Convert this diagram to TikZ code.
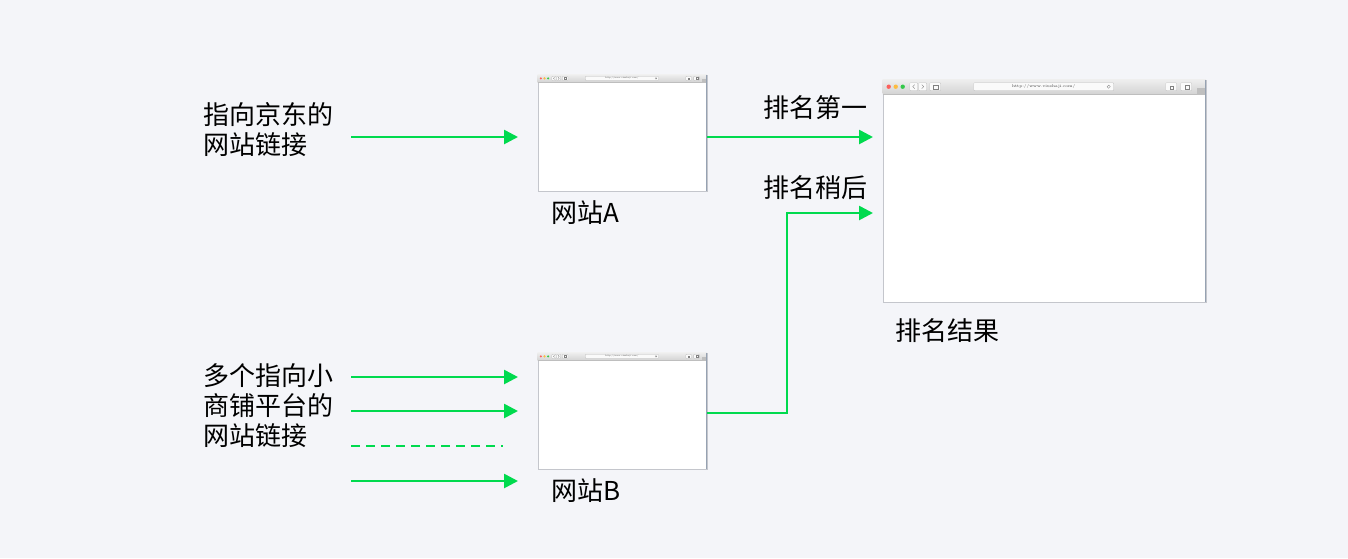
\documentclass[tikz,border=0pt]{standalone}
\usepackage{fontspec}
\newfontfamily\cjk{Noto Sans CJK SC}
\usetikzlibrary{arrows.meta,calc}
\definecolor{bg}{RGB}{244,245,249}
\definecolor{grn}{RGB}{0,218,78}
\definecolor{winedge}{RGB}{196,198,204}
\definecolor{winright}{RGB}{150,162,178}
\definecolor{bartop}{RGB}{238,238,238}
\definecolor{barbot}{RGB}{212,212,212}
\definecolor{btn}{RGB}{250,250,250}
\definecolor{btnedge}{RGB}{190,190,190}
\definecolor{dred}{RGB}{252,96,92}
\definecolor{dyel}{RGB}{253,188,64}
\definecolor{dgrn}{RGB}{52,200,74}
\tikzset{
  lbl/.style={font=\cjk\fontsize{26}{30}\selectfont, inner sep=0pt, anchor=west, align=left, text=black},
  win/.style={fill=white, draw=winedge, line width=0.6pt, inner sep=0pt},
  arr/.style={draw=grn, line width=2.6pt, -{Triangle[length=14pt,width=14pt]}},
  dashline/.style={draw=grn, line width=2.6pt, dash pattern=on 9pt off 6pt},
  btnbox/.style={fill=btn, draw=btnedge, line width=0.3pt, rounded corners=0.8pt},
}
\newcommand\browserdeco[2]{%
  \begin{scope}[shift={(#1.north west)}, scale=#2]
    \shade[top color=bartop, bottom color=barbot] (0,0) rectangle (323,14);
    \draw[btnedge, line width=0.4pt] (0,14) -- (323,14);
    \fill[dred] (6,7) circle[radius=2.2];
    \fill[dyel] (13,7) circle[radius=2.2];
    \fill[dgrn] (20,7) circle[radius=2.2];
    \path[btnbox] (27,3) rectangle (35,11);
    \path[btnbox] (36,3) rectangle (44,11);
    \draw[gray, line width=0.35pt] (32,5) -- (30,7) -- (32,9);
    \draw[gray, line width=0.35pt] (39,5) -- (41,7) -- (39,9);
    \path[btnbox] (47,3) rectangle (58,11);
    \draw[gray, line width=0.3pt] (50,5) rectangle (55,9);
    \path[btnbox] (91,3) rectangle (231,11);
    \node[font=\fontsize{4}{4}\selectfont, inner sep=0pt, text=darkgray, transform shape] at (161,7) {http://www.viushaji.com/};
    \draw[gray, line width=0.3pt] (226,7) circle[radius=1.6];
    \path[btnbox] (283,3) rectangle (294,11);
    \path[btnbox] (298,3) rectangle (309,11);
    \draw[gray, line width=0.3pt] (287,6) rectangle (290,9);
    \draw[gray, line width=0.3pt] (302,5) rectangle (306,9);
    \fill[barbot!90!black] (314,8) rectangle (323,15);
    \draw[winright, line width=1.3pt] (323,0) -- (323,222);
  \end{scope}%
}
\begin{document}
\begin{tikzpicture}[x=1pt,y=-1pt]
\fill[bg] (0,0) rectangle (1348,558);
\useasboundingbox (0,0) rectangle (1348,558);

% windows
\node[win, minimum width=169pt, minimum height=116pt] (wa) at (622.5,133) {};
\node[win, minimum width=169pt, minimum height=116pt] (wb) at (622.5,411) {};
\node[win, minimum width=323pt, minimum height=222pt] (wr) at (1044.5,191) {};
\browserdeco{wa}{0.5232}
\browserdeco{wb}{0.5232}
\browserdeco{wr}{1}

% labels
\node[lbl] (t1) at (203,130) {指向京东的\\网站链接};
\node[lbl] (t2) at (203,406) {多个指向小\\商铺平台的\\网站链接};
\node[lbl] (la) at (551,213) {网站A};
\node[lbl] (lb) at (551,491) {网站B};
\node[lbl] (r1) at (763,108) {排名第一};
\node[lbl] (r2) at (763,188) {排名稍后};
\node[lbl] (rr) at (895,331) {排名结果};

% connector end points
\coordinate (s1) at (351,137);
\coordinate (e1) at (518,137);
\coordinate (sb1) at (351,377);
\coordinate (eb1) at (518,377);
\coordinate (sb2) at (351,411);
\coordinate (eb2) at (518,411);
\coordinate (sb3) at (351,446);
\coordinate (eb3) at (503,446);
\coordinate (sb4) at (351,481);
\coordinate (eb4) at (518,481);
\coordinate (ea) at (873,137);
\coordinate (sbB) at (707,413);
\coordinate (kb) at (787,413);
\coordinate (eB) at (873,213);

\draw[arr] (s1) -- (e1);
\draw[arr] (sb1) -- (eb1);
\draw[arr] (sb2) -- (eb2);
\draw[dashline] (sb3) -- (eb3);
\draw[arr] (sb4) -- (eb4);
\draw[arr] (wa.east |- ea) -- (ea);
\draw[arr] (sbB) -- (kb) |- (eB);
\end{tikzpicture}
\end{document}
